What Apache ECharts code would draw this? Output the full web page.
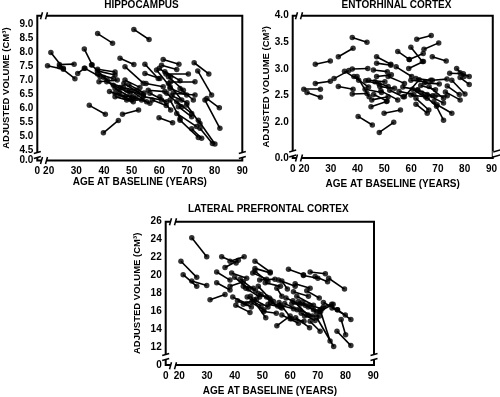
<!DOCTYPE html>
<html>
<head>
<meta charset="utf-8">
<script src="https://cdn.jsdelivr.net/npm/echarts@6.0.0/dist/echarts.min.js"></script>
<style>
  html, body { margin: 0; padding: 0; background: #fff; }
  #chart { width: 500px; height: 397px; }
</style>
</head>
<body>
<div id="chart"></div>
<script>
var FONT = '"Liberation Sans", Arial, sans-serif';

// hippocampus: age / volume at baseline (0) and at follow-up (1)
var hipAge0 = [20.8, 19.6, 23.9, 23.9, 30.5, 32.9, 37.7, 34.7, 39.8, 46.7, 37.7, 37.6, 33.1, 35.5, 37.7, 38.2, 39.8,
  41.0, 43.4, 44.0, 44.0, 45.8, 44.0, 47.6, 47.2, 45.8, 48.2, 50.0, 50.6, 48.2, 45.8, 50.8, 47.6, 54.8, 54.8, 55.2,
  56.0, 56.6, 54.2, 59.0, 60.0, 61.4, 60.8, 62.0, 62.4, 63.3, 64.1, 63.3, 63.9, 62.7, 60.2, 65.0, 67.5, 66.3, 66.9,
  63.9, 59.9, 66.3, 67.5, 71.7, 72.6, 73.9, 77.2, 76.5, 74.1, 74.7, 69.9, 42.0, 49.0, 57.5, 64.5];
var hipVol0 = [8.00, 7.52, 7.57, 7.49, 7.25, 8.12, 8.67, 6.11, 5.13, 5.79, 7.40, 7.34, 7.43, 7.55, 7.23, 6.95, 7.11,
  6.95, 6.83, 6.71, 6.54, 6.48, 6.42, 7.01, 6.89, 6.75, 6.65, 6.62, 6.42, 6.30, 7.79, 8.82, 7.49, 7.58, 7.25, 6.89,
  6.65, 6.54, 6.42, 7.37, 7.43, 7.75, 7.54, 7.31, 7.23, 7.13, 6.95, 6.89, 6.71, 6.54, 6.42, 6.54, 6.71, 6.24, 6.06,
  6.30, 5.67, 5.82, 5.58, 5.27, 7.63, 7.34, 6.35, 6.30, 5.58, 5.29, 6.12, 6.60, 6.85, 6.30, 6.45];
var hipAge1 = [25.3, 25.3, 29.2, 29.5, 32.9, 35.7, 43.1, 40.5, 45.2, 52.5, 44.0, 44.0, 38.6, 41.2, 43.4, 44.8, 45.5,
  47.0, 49.4, 50.0, 50.0, 51.6, 50.6, 53.0, 53.0, 51.8, 54.2, 55.4, 56.6, 53.6, 50.8, 56.3, 54.2, 59.6, 60.2, 61.4,
  62.0, 62.7, 60.8, 63.9, 64.1, 67.1, 66.3, 67.5, 70.5, 68.7, 72.9, 68.1, 69.9, 68.1, 64.1, 72.9, 72.3, 71.7, 71.7,
  67.5, 64.8, 73.5, 74.1, 75.3, 77.9, 78.9, 81.7, 81.9, 80.1, 79.2, 74.7, 47.5, 54.5, 62.5, 70.0];
var hipVol1 = [7.43, 7.40, 7.58, 7.06, 7.43, 7.56, 8.33, 5.79, 5.57, 5.94, 7.30, 7.19, 7.13, 7.01, 7.07, 7.01, 6.60,
  6.75, 6.54, 6.39, 6.30, 6.36, 6.24, 6.75, 6.54, 6.65, 6.48, 6.24, 6.18, 6.30, 7.57, 8.46, 6.90, 7.07, 7.07, 6.77,
  6.60, 6.24, 6.30, 6.77, 7.13, 7.58, 7.39, 6.99, 7.23, 6.65, 6.95, 6.30, 6.48, 6.06, 5.94, 6.48, 6.30, 5.82, 5.70,
  5.64, 5.49, 5.35, 4.96, 4.93, 7.23, 6.48, 6.02, 5.29, 4.73, 4.75, 5.46, 6.42, 6.55, 6.10, 6.20];

// entorhinal cortex
var entAge0 = [19.9, 21.1, 24.2, 24.2, 32.8, 38.0, 32.8, 31.2, 35.1, 38.0, 38.0, 38.6, 39.8, 40.2, 48.1, 49.9, 45.0,
  45.3, 47.1, 47.1, 45.9, 47.1, 44.1, 46.5, 42.8, 48.3, 48.7, 46.0, 55.0, 54.4, 59.9, 59.3, 62.1, 64.8, 67.9, 59.1,
  59.9, 61.8, 56.9, 55.5, 59.9, 61.8, 61.8, 63.6, 65.0, 67.9, 66.0, 68.5, 69.7, 66.7, 69.0, 72.8, 73.5, 74.4, 75.2,
  77.0, 78.3, 78.3, 51.4, 62.5, 57.5, 60.5, 64.0, 52.0, 43.0];
var entVol0 = [2.62, 2.56, 3.09, 2.73, 3.23, 3.59, 2.67, 2.82, 2.96, 3.00, 2.53, 2.86, 2.86, 2.11, 1.81, 2.17, 2.29,
  2.42, 3.23, 3.11, 2.98, 2.86, 2.79, 2.76, 2.62, 2.67, 2.59, 2.52, 3.33, 3.04, 3.41, 3.18, 3.56, 3.37, 3.23, 3.01,
  2.79, 2.82, 2.66, 2.58, 2.51, 2.45, 2.34, 2.69, 2.74, 2.79, 2.52, 2.39, 2.33, 2.67, 2.50, 2.57, 2.68, 2.92, 2.79,
  3.01, 2.93, 2.84, 2.86, 2.60, 2.48, 2.62, 2.55, 2.60, 2.78];
var entAge1 = [26.1, 26.1, 29.8, 29.8, 38.3, 43.5, 38.3, 36.7, 40.4, 43.8, 43.5, 44.1, 44.3, 45.5, 53.5, 56.0, 50.8,
  51.4, 52.4, 52.4, 51.1, 52.6, 50.2, 51.4, 48.9, 53.8, 55.0, 51.0, 59.3, 60.2, 64.2, 64.5, 67.5, 70.3, 73.1, 64.6,
  65.4, 67.3, 62.4, 61.0, 65.4, 66.6, 66.0, 69.1, 70.5, 73.4, 72.1, 72.1, 75.2, 72.1, 73.5, 78.3, 78.0, 79.5, 80.1,
  79.8, 81.7, 81.7, 57.5, 68.0, 63.0, 66.0, 69.5, 57.0, 48.0];
var entVol1 = [2.62, 2.47, 3.15, 2.77, 3.39, 3.50, 2.62, 2.97, 2.79, 3.01, 2.54, 2.66, 2.48, 1.95, 2.00, 2.23, 2.39,
  2.48, 3.09, 3.07, 2.95, 2.89, 2.76, 2.67, 2.56, 2.64, 2.42, 2.40, 3.18, 2.86, 3.14, 3.29, 3.63, 3.49, 3.15, 3.14,
  2.76, 2.79, 2.61, 2.52, 2.48, 2.23, 2.17, 2.61, 2.72, 2.81, 2.36, 2.04, 2.17, 2.45, 2.50, 2.42, 2.52, 2.91, 2.53,
  2.86, 2.86, 2.71, 2.73, 2.50, 2.80, 2.45, 2.30, 2.48, 2.72];

// lateral prefrontal cortex
var lpfAge0 = [24.5, 20.6, 21.4, 24.5, 31.1, 33.5, 33.5, 35.3, 36.5, 38.3, 38.9, 38.3, 39.3, 40.4, 43.1, 43.1, 40.0,
  47.3, 47.3, 47.3, 48.5, 49.0, 51.0, 45.7, 47.0, 48.5, 55.2, 55.8, 57.0, 55.2, 56.4, 57.0, 59.4, 61.8, 61.2, 62.4,
  63.0, 60.6, 63.5, 65.2, 66.5, 67.2, 70.8, 69.6, 67.2, 64.8, 69.0, 73.9, 72.0, 75.1, 77.1, 76.9, 78.4, 72.0, 53.0,
  50.5, 60.0, 64.0, 41.0, 44.5, 58.5, 66.0, 46.5, 49.5, 51.5, 44.0, 46.0, 52.0, 58.0, 61.0, 64.5, 67.0, 70.5, 62.0,
  56.0, 42.0];
var lpfVol0 = [24.2, 21.6, 20.1, 19.4, 17.3, 19.2, 20.4, 22.1, 20.9, 21.6, 20.3, 18.8, 17.6, 16.7, 16.8, 18.8, 19.8,
  21.6, 20.8, 20.5, 18.8, 19.5, 19.2, 17.7, 17.3, 18.0, 14.4, 19.5, 19.4, 18.6, 16.7, 15.6, 20.7, 19.1, 18.2, 17.7,
  17.1, 16.9, 16.2, 15.5, 16.5, 14.9, 16.2, 15.3, 20.4, 20.0, 19.9, 19.7, 17.0, 16.4, 16.2, 13.8, 15.1, 16.5, 17.0,
  16.0, 15.2, 15.8, 17.2, 17.6, 17.5, 18.3, 20.3, 17.9, 17.6, 18.6, 17.0, 16.8, 16.9, 17.2, 17.0, 16.7, 16.0, 15.3,
  17.0, 19.6];
var lpfAge1 = [29.9, 26.3, 26.3, 29.9, 36.5, 38.3, 38.3, 40.5, 41.3, 43.4, 44.3, 43.1, 44.3, 45.5, 47.9, 46.7, 45.0,
  52.8, 52.8, 52.0, 52.5, 54.5, 56.5, 51.2, 52.0, 53.0, 60.0, 61.8, 59.0, 57.0, 61.2, 63.0, 64.8, 67.2, 66.6, 68.4,
  68.4, 65.4, 68.0, 70.6, 71.0, 70.8, 74.4, 75.7, 72.7, 70.0, 73.5, 79.6, 77.0, 79.9, 81.9, 81.9, 80.0, 75.0, 57.0,
  55.0, 65.0, 69.0, 46.0, 49.5, 63.5, 70.5, 51.5, 54.0, 55.5, 49.0, 50.5, 56.5, 62.5, 66.5, 69.5, 71.5, 75.5, 67.0,
  60.5, 47.5];
var lpfVol1 = [22.1, 19.8, 18.8, 18.9, 17.9, 18.4, 19.5, 21.4, 21.7, 22.1, 19.7, 19.3, 16.9, 15.9, 17.4, 18.6, 18.5,
  20.4, 20.3, 19.3, 17.5, 19.6, 18.8, 15.3, 16.5, 17.3, 15.5, 18.8, 18.5, 17.7, 16.3, 14.7, 20.1, 18.6, 17.7, 16.7,
  16.2, 16.7, 15.5, 15.5, 16.0, 13.8, 12.7, 12.1, 20.2, 19.7, 19.3, 18.5, 16.2, 15.6, 15.1, 12.2, 13.4, 16.8, 16.4,
  15.8, 14.9, 15.0, 16.5, 16.6, 16.8, 17.5, 19.6, 17.1, 16.6, 17.6, 16.2, 16.5, 16.2, 15.6, 15.9, 16.3, 16.8, 14.2,
  15.2, 18.3];

// tick labels (the first label of each axis sits on the broken-off zero)
var ageTicks = [20, 30, 40, 50, 60, 70, 80, 90];
var hipTicks = [4.5, 5.0, 5.5, 6.0, 6.5, 7.0, 7.5, 8.0, 8.5, 9.0];
var entTicks = [1.5, 2.0, 2.5, 3.0, 3.5, 4.0];
var lpfTicks = [12, 14, 16, 18, 20, 22, 24, 26];

function segments(a0, v0, a1, v1) {
  return a0.map(function (a, i) { return { coords: [[a, v0[i]], [a1[i], v1[i]]] }; });
}
function points(a0, v0, a1, v1) {
  var out = [];
  a0.forEach(function (a, i) { out.push([a, v0[i]]); out.push([a1[i], v1[i]]); });
  return out;
}

var labelStyle = { color: '#000', fontWeight: 'bold', fontSize: 10, fontFamily: FONT };
var nameStyle = { color: '#000', fontWeight: 'bold', fontSize: 10, fontFamily: FONT };

function xAxisFor(grid, min, max, gap) {
  return {
    type: 'value', gridIndex: grid, min: min, max: max,
    name: 'AGE AT BASELINE (YEARS)', nameLocation: 'middle', nameGap: gap, nameTextStyle: nameStyle,
    axisLine: { show: false }, axisTick: { show: false }, splitLine: { show: false },
    axisLabel: Object.assign({
      customValues: [min].concat(ageTicks), margin: 6, showMinLabel: true, showMaxLabel: true,
      formatter: function (v) { return v < 19 ? '0' : String(v); }
    }, labelStyle)
  };
}
function yAxisFor(grid, min, max, ticks, zero, digits, gap) {
  return {
    type: 'value', gridIndex: grid, min: min, max: max,
    name: 'ADJUSTED VOLUME (CM³)', nameLocation: 'middle', nameGap: gap,
    nameTextStyle: Object.assign({}, nameStyle, { fontSize: 9.5 }),
    axisLine: { show: false }, axisTick: { show: false }, splitLine: { show: false },
    axisLabel: Object.assign({
      customValues: [min].concat(ticks), margin: 4, showMinLabel: true, showMaxLabel: true,
      formatter: function (v) { return v < ticks[0] - 0.01 ? zero : v.toFixed(digits); }
    }, labelStyle)
  };
}

function lineSeries(i, data) {
  return {
    type: 'lines', coordinateSystem: 'cartesian2d', xAxisIndex: i, yAxisIndex: i,
    data: data, silent: true,
    lineStyle: { color: '#000', width: 1.6, opacity: 1 }
  };
}
function dotSeries(i, data) {
  return {
    type: 'scatter', xAxisIndex: i, yAxisIndex: i, data: data, silent: true,
    symbolSize: 5.5, itemStyle: { color: '#000' }
  };
}

// small gaps in the frame where the axes are broken
function breakMark(x, y, vertical) {
  var w = vertical ? 8 : 5, h = vertical ? 5 : 8;
  var marks = [{
    type: 'rect', z: 100, shape: { x: x - w / 2, y: y - h / 2, width: w, height: h },
    style: { fill: '#fff' }
  }];
  [-1, 1].forEach(function (s) {
    var shape = vertical
      ? { x1: x - 3.5, y1: y + s * 2.5 + 1, x2: x + 3.5, y2: y + s * 2.5 - 1 }
      : { x1: x + s * 2.5 - 1, y1: y + 3.5, x2: x + s * 2.5 + 1, y2: y - 3.5 };
    marks.push({ type: 'line', z: 101, shape: shape, style: { stroke: '#000', lineWidth: 1.5 } });
  });
  return marks;
}

function titleText(text, x, y) {
  return {
    type: 'text', x: x, y: y, z: 101,
    style: { text: text, align: 'center', verticalAlign: 'middle', fill: '#000', font: 'bold 10px ' + FONT }
  };
}

var frame = { show: true, borderColor: '#000', borderWidth: 2, backgroundColor: 'transparent' };

var chart = echarts.init(document.getElementById('chart'));
chart.setOption({
  backgroundColor: '#fff',
  animation: false,
  grid: [
    Object.assign({ left: 37.3, top: 15.7, width: 205, height: 144.8 }, frame),
    Object.assign({ left: 292.7, top: 15.7, width: 204, height: 142.3 }, frame),
    Object.assign({ left: 165.7, top: 221.7, width: 208.3, height: 144 }, frame)
  ],
  xAxis: [
    xAxisFor(0, 15.9, 90, 17),
    xAxisFor(1, 15.75, 90.5, 21),
    xAxisFor(2, 15.1, 90.25, 21)
  ],
  yAxis: [
    yAxisFor(0, 4.14, 9.31, hipTicks, '0.0', 1, 26),
    yAxisFor(1, 1.33, 4.0, entTicks, '0.0', 1, 19),
    yAxisFor(2, 10.04, 26, lpfTicks, '0', 0, 23)
  ],
  graphic: [
    titleText('HIPPOCAMPUS', 141.5, 5),
    titleText('ENTORHINAL CORTEX', 396.5, 5),
    titleText('LATERAL PREFRONTAL CORTEX', 268.3, 209)
  ].concat(
    breakMark(37.3, 155, true), breakMark(242.3, 155, true),
    breakMark(44, 15.7, false), breakMark(44, 160.5, false),
    breakMark(292.7, 153.5, true), breakMark(496.7, 153.5, true),
    breakMark(299, 15.7, false), breakMark(299, 158, false),
    breakMark(165.7, 357, true), breakMark(374, 357, true),
    breakMark(173, 221.7, false), breakMark(173, 365.7, false)
  ),
  series: [
    lineSeries(0, segments(hipAge0, hipVol0, hipAge1, hipVol1)),
    dotSeries(0, points(hipAge0, hipVol0, hipAge1, hipVol1)),
    lineSeries(1, segments(entAge0, entVol0, entAge1, entVol1)),
    dotSeries(1, points(entAge0, entVol0, entAge1, entVol1)),
    lineSeries(2, segments(lpfAge0, lpfVol0, lpfAge1, lpfVol1)),
    dotSeries(2, points(lpfAge0, lpfVol0, lpfAge1, lpfVol1))
  ]
});
</script>
</body>
</html>
